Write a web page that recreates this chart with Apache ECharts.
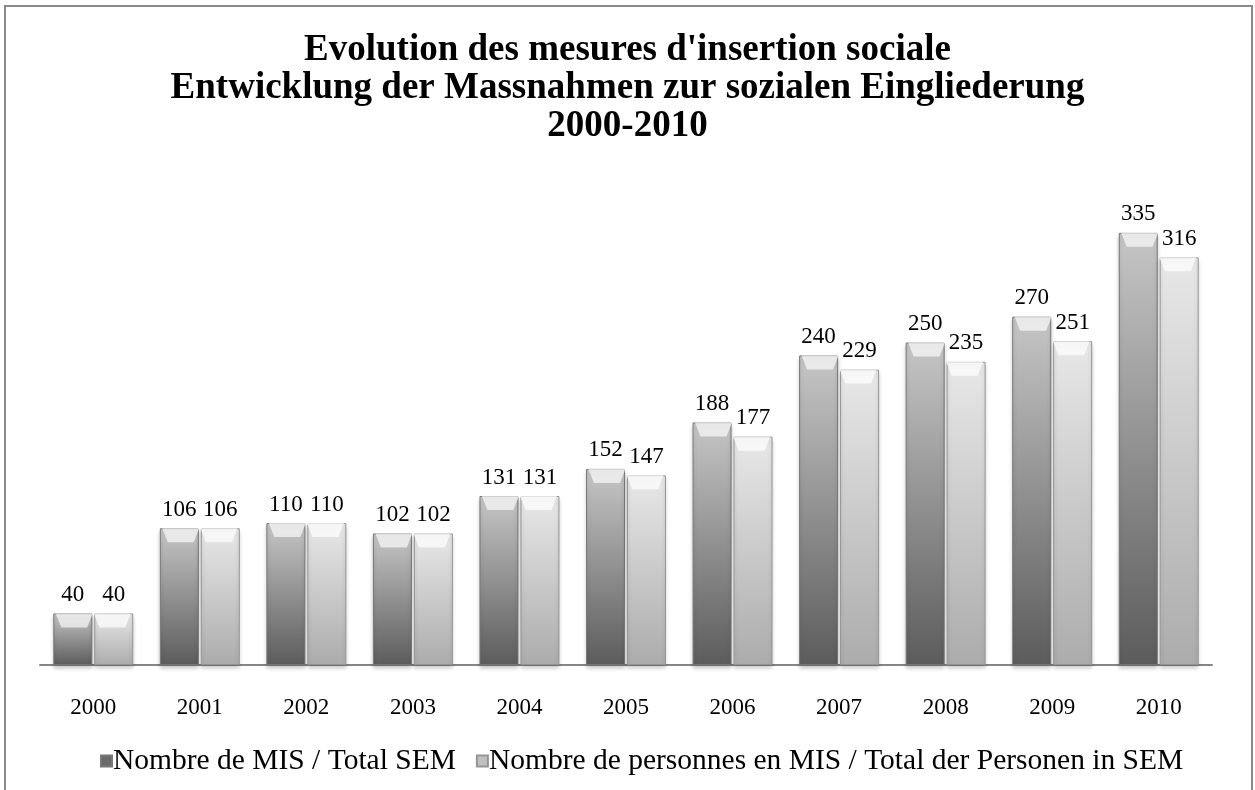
<!DOCTYPE html>
<html><head><meta charset="utf-8">
<script src="https://cdn.jsdelivr.net/npm/echarts@6/dist/echarts.min.js"></script>
<style>html,body{margin:0;padding:0;background:#fff}#c{width:1255px;height:790px}</style>
</head><body><div id="c"></div>
<script>
const years = ['2000','2001','2002','2003','2004','2005','2006','2007','2008','2009','2010'];
const mis = [40,106,110,102,131,152,188,240,250,270,335];
const persons = [40,106,110,102,131,147,177,229,235,251,316];
const seriesNames = ['Nombre de MIS / Total SEM','Nombre de personnes en MIS / Total der Personen in SEM'];
const titleText = "Evolution des mesures d'insertion sociale\nEntwicklung der Massnahmen zur sozialen Eingliederung\n2000-2010";

const FONT = '"Liberation Serif","Times New Roman",serif';
function grad(top, bottom){
  return new echarts.graphic.LinearGradient(0,0,0,1,[{offset:0,color:top},{offset:1,color:bottom}]);
}
const bevel = 'path://M0,0 L10,0 L8.5,1 L1.5,1 Z';
const chart = echarts.init(document.getElementById('c'));
const labelStyle = {show:true, position:'top', distance:7, fontFamily:FONT, fontSize:23, color:'#000'};
chart.setOption({
  animation:false,
  title:{text:titleText, left:'center', top:26, textStyle:{fontFamily:FONT, fontSize:37, fontWeight:'bold', color:'#000', lineHeight:38}},
  graphic:[{type:'rect', shape:{x:5,y:6,width:1247,height:820}, style:{fill:'none', stroke:'#8a8a8a', lineWidth:2}, z:-1}],
  legend:{bottom:9, left:95, itemWidth:11, itemHeight:11, itemGap:20,
    textStyle:{fontFamily:FONT, fontSize:29.5, color:'#000', padding:[0,0,0,-4]},
    data:[{name:seriesNames[0], icon:'rect', itemStyle:{color:'#6a6a6a'}},{name:seriesNames[1], icon:'rect', itemStyle:{color:'#c0c0c0'}}]},
  grid:{left:40, right:43, top:149, bottom:125},
  xAxis:{type:'category', data:years, axisTick:{show:false},
    axisLine:{lineStyle:{color:'#868686', width:2}},
    axisLabel:{fontFamily:FONT, fontSize:23, color:'#000', margin:31}},
  yAxis:{type:'value', min:0, max:400, show:false, splitLine:{show:false}},
  series:[
    {name:seriesNames[0], type:'bar', data:mis, barWidth:39, barGap:'5%',
      itemStyle:{color:grad('#c6c6c6','#5c5c5c'), borderColor:'#777', borderWidth:1,
        shadowColor:'rgba(0,0,0,0.2)', shadowBlur:4, shadowOffsetY:3},
      label:labelStyle},
    {name:seriesNames[1], type:'bar', data:persons, barWidth:39,
      itemStyle:{color:grad('#e8e8e8','#acacac'), borderColor:'#959595', borderWidth:1,
        shadowColor:'rgba(0,0,0,0.18)', shadowBlur:4, shadowOffsetY:3},
      label:labelStyle},
    {type:'pictorialBar', data:mis, symbol:bevel, symbolSize:[37,14], symbolPosition:'end',
      symbolOffset:['-51.5%', 0], itemStyle:{color:'rgba(255,255,255,0.65)'}, z:5, silent:true, legendHoverLink:false, barGap:'-100%'},
    {type:'pictorialBar', data:persons, symbol:bevel, symbolSize:[37,14], symbolPosition:'end',
      symbolOffset:['51.5%', 0], itemStyle:{color:'rgba(255,255,255,0.7)'}, z:5, silent:true, legendHoverLink:false, barGap:'-100%'}
  ]
});
</script></body></html>
